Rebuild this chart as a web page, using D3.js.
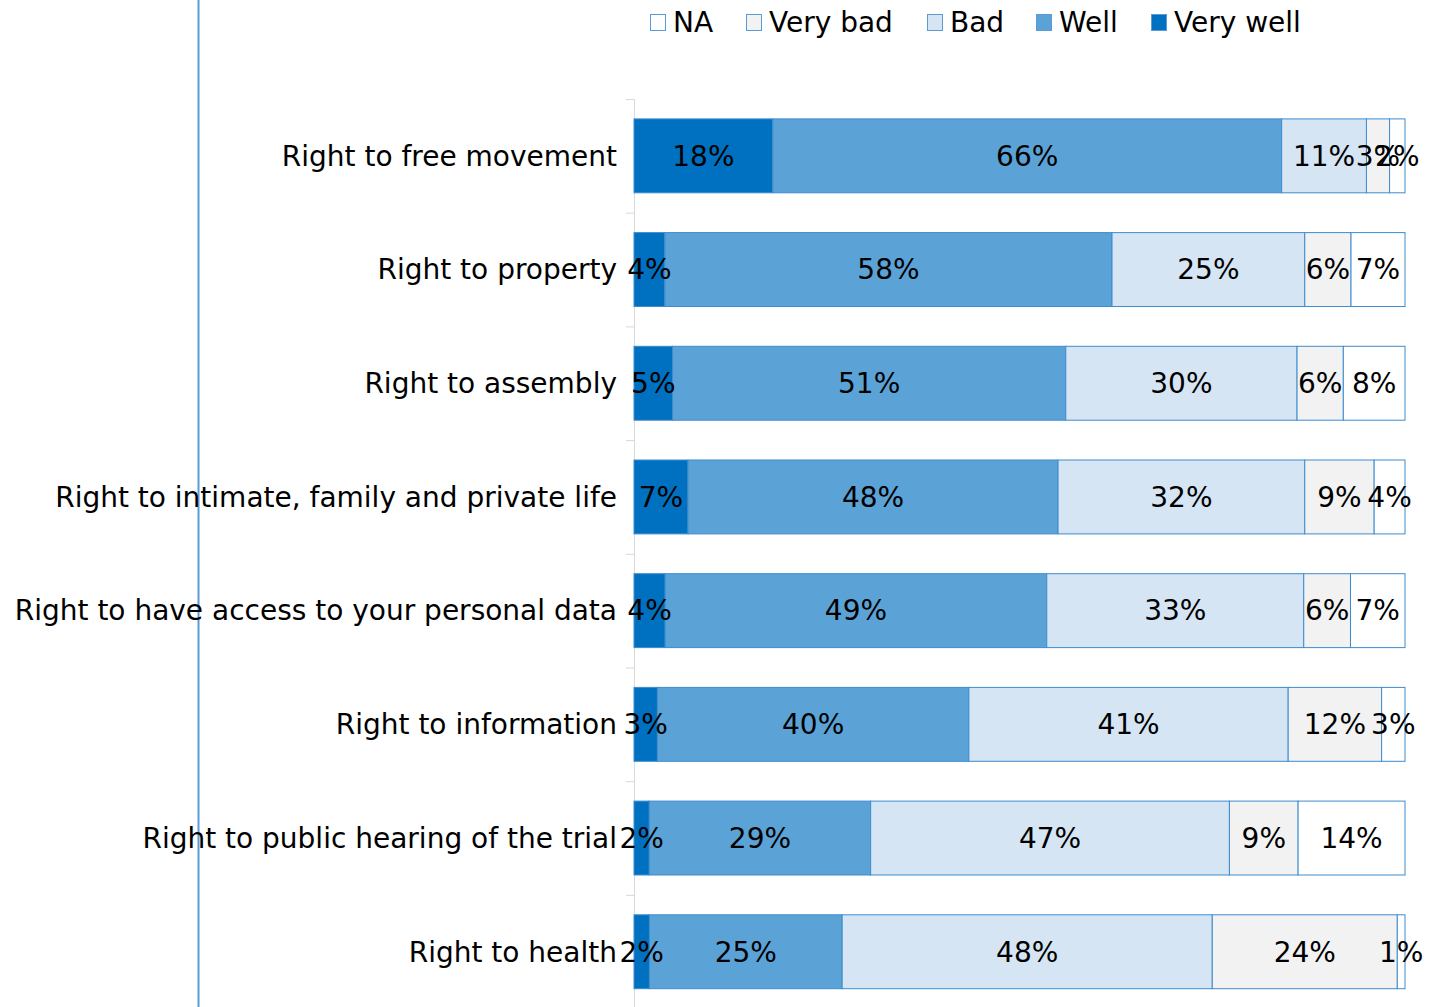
<!DOCTYPE html>
<html>
<head>
<meta charset="utf-8">
<script src="https://cdn.jsdelivr.net/npm/d3@7"></script>
<style>
  body { margin: 0; background: #fff; }
  text { font-family: "DejaVu Sans", sans-serif; fill: #000; }
</style>
</head>
<body>
<script>
// categories top to bottom
var categories = [
  'Right to free movement',
  'Right to property',
  'Right to assembly',
  'Right to intimate, family and private life',
  'Right to have access to your personal data',
  'Right to information',
  'Right to public hearing of the trial',
  'Right to health'
];

// series, in stacking order (left to right)
var series = ['Very well', 'Well', 'Bad', 'Very bad', 'NA'];
var veryWell = [18, 4, 5, 7, 4, 3, 2, 2];
var well     = [66, 58, 51, 48, 49, 40, 29, 25];
var bad      = [11, 25, 30, 32, 33, 41, 47, 48];
var veryBad  = [3, 6, 6, 9, 6, 12, 9, 24];
var na       = [2, 7, 8, 4, 7, 3, 14, 1];

// legend order (left to right)
var legendOrder = ['NA', 'Very bad', 'Bad', 'Well', 'Very well'];

var colors = {
  'Very well': '#0070c0',
  'Well': '#5ba3d7',
  'Bad': '#d5e5f3',
  'Very bad': '#f2f2f2',
  'NA': '#ffffff'
};

var width = 1446, height = 1007;

var rows = categories.map(function(c, i) {
  return {
    cat: c,
    'Very well': veryWell[i],
    'Well': well[i],
    'Bad': bad[i],
    'Very bad': veryBad[i],
    'NA': na[i]
  };
});

var stack = d3.stack().keys(series).offset(d3.stackOffsetExpand);
var layers = stack(rows);

var x = d3.scaleLinear().domain([0, 1]).range([634, 1405]);
var y = d3.scaleBand()
  .domain(categories)
  .range([99, 99 + 8 * 113.7])
  .paddingInner(0.35)
  .paddingOuter(0.175);

var svg = d3.select('body')
  .append('svg')
    .attr('width', width)
    .attr('height', height);

// blue vertical rule on the left
svg.append('line')
  .attr('x1', 198.5).attr('x2', 198.5)
  .attr('y1', 0).attr('y2', height)
  .attr('stroke', '#5b9bd5')
  .attr('stroke-width', 2);

// category axis
svg.append('line')
  .attr('x1', 634.5).attr('x2', 634.5)
  .attr('y1', y.range()[0]).attr('y2', y.range()[1])
  .attr('stroke', '#d9d9d9');

svg.selectAll('.tick')
  .data(d3.range(categories.length + 1))
  .enter().append('line')
  .attr('class', 'tick')
  .attr('x1', 626).attr('x2', 634)
  .attr('y1', function(k) { return y.range()[0] + k * y.step() + 0.5; })
  .attr('y2', function(k) { return y.range()[0] + k * y.step() + 0.5; })
  .attr('stroke', '#d9d9d9');

svg.selectAll('.cat')
  .data(categories)
  .enter().append('text')
  .attr('class', 'cat')
  .attr('x', 617)
  .attr('y', function(d) { return y(d) + y.bandwidth() / 2; })
  .attr('dy', '0.35em')
  .attr('text-anchor', 'end')
  .style('font-size', '28px')
  .text(function(d) { return d; });

// bars
var groups = svg.selectAll('.layer')
  .data(layers)
  .enter().append('g')
  .attr('class', 'layer')
  .attr('fill', function(d) { return colors[d.key]; });

groups.selectAll('rect')
  .data(function(d) { return d; })
  .enter().append('rect')
  .attr('x', function(d) { return x(d[0]); })
  .attr('y', function(d) { return y(d.data.cat); })
  .attr('width', function(d) { return x(d[1]) - x(d[0]); })
  .attr('height', y.bandwidth())
  .attr('stroke', '#3d8ccf')
  .attr('stroke-width', 1);

// value labels
layers.forEach(function(layer) {
  svg.append('g').selectAll('text')
    .data(layer)
    .enter().append('text')
    .attr('x', function(d) { return (x(d[0]) + x(d[1])) / 2; })
    .attr('y', function(d) { return y(d.data.cat) + y.bandwidth() / 2; })
    .attr('dy', '0.35em')
    .attr('text-anchor', 'middle')
    .style('font-size', '28px')
    .text(function(d) { return d.data[layer.key] + '%'; });
});

// legend
var legendX = [650, 746, 927, 1036, 1151];
var legend = svg.selectAll('.leg')
  .data(legendOrder)
  .enter().append('g')
  .attr('class', 'leg')
  .attr('transform', function(d, i) { return 'translate(' + legendX[i] + ',0)'; });

legend.append('rect')
  .attr('x', 0.5).attr('y', 14.5)
  .attr('width', 15).attr('height', 16)
  .attr('fill', function(d) { return colors[d]; })
  .attr('stroke', '#5b9bd5');

legend.append('text')
  .attr('x', 23)
  .attr('y', 22)
  .attr('dy', '0.35em')
  .style('font-size', '28px')
  .text(function(d) { return d; });
</script>
</body>
</html>
